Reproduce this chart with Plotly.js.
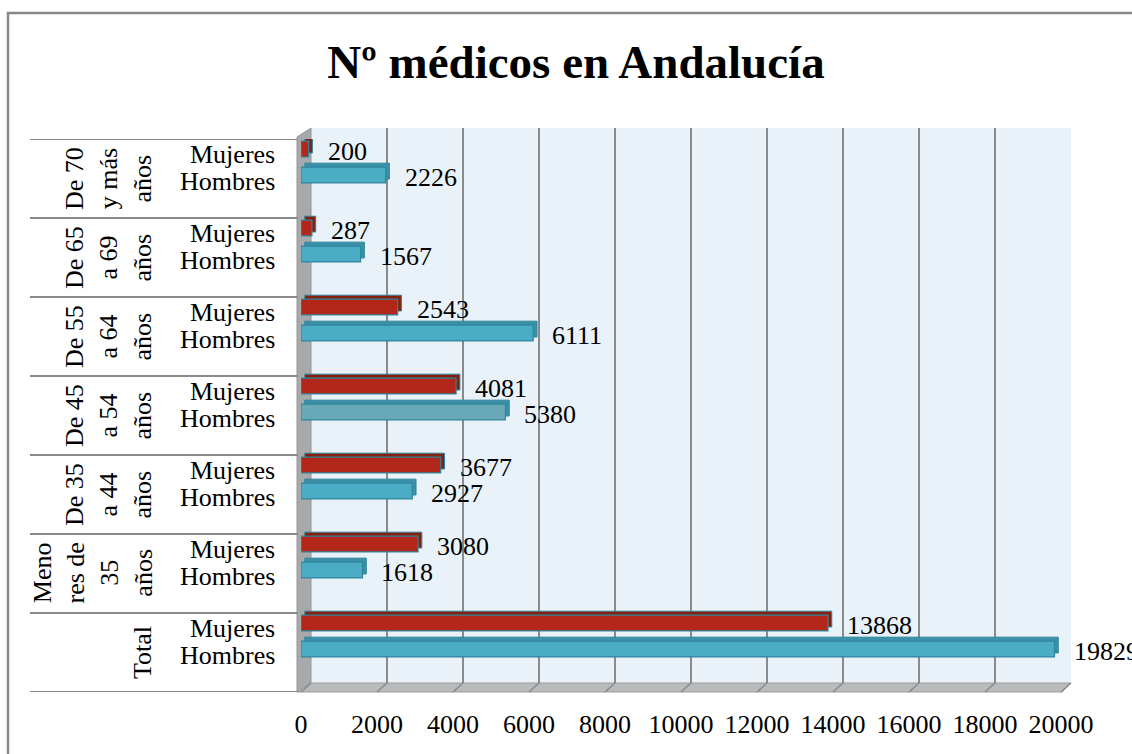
<!DOCTYPE html>
<html>
<head>
<meta charset="utf-8">
<script src="https://cdn.plot.ly/plotly-3.0.1.min.js"></script>
<style>
  html, body { margin: 0; padding: 0; background: #fff; }
  #chart { width: 1132px; height: 754px; }
</style>
</head>
<body>
<div id="chart"></div>
<script>
// Nº médicos en Andalucía — Excel-style 3D clustered horizontal bars

const groups = [
  "De 70<br>y más<br>años",
  "De 65<br>a 69<br>años",
  "De 55<br>a 64<br>años",
  "De 45<br>a 54<br>años",
  "De 35<br>a 44<br>años",
  "Meno<br>res de<br>35<br>años",
  "Total",
];
const mujeres = [200, 287, 2543, 4081, 3677, 3080, 13868];
const hombres = [2226, 1567, 6111, 5380, 2927, 1618, 19829];
const sexLabels = ["Mujeres", "Hombres"];
const xTicks = [0, 2000, 4000, 6000, 8000, 10000, 12000, 14000, 16000, 18000, 20000];

const W = 1132, H = 754;
const px = (x) => x / W;
const py = (y) => 1 - y / H;

const COLORS = {
  red:       "#b2271a",
  redTop:    "#85200f",
  blue:      "#4bacc6",
  blueTop:   "#3a90a8",
  blueSel:   "#68a8b7",
  edge:      "#31859c",
  wall:      "#eaf2f9",
  sideWall:  "#a7a9ab",
  floor:     "#b8bcbf",
  grid:      "#8a8a8a",
  text:      "#000000",
};
const FONT = "Liberation Serif, Times New Roman, serif";

// front plane (bars, tick labels) and back wall (grid) in pixels
const FRONT = { x0: 301, x1: 1061, y0: 692, y1: 139 };
const BACK  = { x0: 311, x1: 1071, y0: 683, y1: 128 };
const XMAX = 20000;

// positions inside each group (group height = 1 unit)
const OFF_M = 0.127, OFF_H = 0.456;      // bar centres
const BAR_W = 0.2;
const DEPTH_Y = 0.05, DEPTH_X = 100;     // fake 3D depth

const gIdx = groups.map((_, i) => i);
const yM = gIdx.map((i) => i + OFF_M);
const yH = gIdx.map((i) => i + OFF_H);
const hombresColors = hombres.map((_, i) => (i === 3 ? COLORS.blueSel : COLORS.blue));

const barBase = { type: "bar", orientation: "h", width: BAR_W, xaxis: "x2", yaxis: "y2",
                  hoverinfo: "skip", showlegend: false };

const traces = [
  // empty trace so the back-wall grid subplot exists (drawn first, below bars)
  { type: "scatter", x: [], y: [], xaxis: "x", yaxis: "y", showlegend: false, hoverinfo: "skip" },
  { ...barBase, x: mujeres, y: yM.map((v) => v - DEPTH_Y), base: mujeres.map(() => DEPTH_X),
    marker: { color: COLORS.redTop, line: { color: COLORS.edge, width: 1 } } },
  { ...barBase, x: hombres, y: yH.map((v) => v - DEPTH_Y), base: hombres.map(() => DEPTH_X),
    marker: { color: COLORS.blueTop, line: { color: COLORS.edge, width: 1 } } },
  { ...barBase, x: mujeres, y: yM,
    marker: { color: COLORS.red, line: { color: COLORS.edge, width: 1.2 } } },
  { ...barBase, x: hombres, y: yH,
    marker: { color: hombresColors, line: { color: COLORS.edge, width: 1.2 } } },
];

const shapes = [];
// outer chart border
shapes.push({ type: "rect", xref: "paper", yref: "paper", layer: "below",
  x0: px(8), y0: py(13), x1: 1.05, y1: -0.05, line: { color: "#878787", width: 2.5 } });
// back wall
shapes.push({ type: "rect", xref: "paper", yref: "paper", layer: "below",
  x0: px(BACK.x0), x1: px(BACK.x1), y0: py(BACK.y0), y1: py(BACK.y1),
  fillcolor: COLORS.wall, line: { width: 0 } });
// side wall
shapes.push({ type: "path", xref: "paper", yref: "paper", layer: "below",
  path: `M ${px(297)} ${py(137)} L ${px(BACK.x0)} ${py(BACK.y1)} L ${px(BACK.x0)} ${py(BACK.y0)} L ${px(297)} ${py(FRONT.y0)} Z`,
  fillcolor: COLORS.sideWall, line: { color: "#969696", width: 1 } });
// floor
shapes.push({ type: "path", xref: "paper", yref: "paper", layer: "below",
  path: `M ${px(297)} ${py(FRONT.y0)} L ${px(BACK.x0)} ${py(BACK.y0)} L ${px(BACK.x1)} ${py(BACK.y0)} L ${px(FRONT.x1 + 1)} ${py(FRONT.y0)} Z`,
  fillcolor: COLORS.floor, line: { color: "#9c9c9c", width: 1 } });
// floor diagonals under every grid line
xTicks.forEach((t) => {
  const fb = BACK.x0 + (t / XMAX) * (BACK.x1 - BACK.x0);
  const ff = FRONT.x0 + (t / XMAX) * (FRONT.x1 - FRONT.x0);
  shapes.push({ type: "line", xref: "paper", yref: "paper", layer: "below",
    x0: px(fb), y0: py(BACK.y0), x1: px(ff), y1: py(FRONT.y0),
    line: { color: COLORS.grid, width: 1.5 } });
});
// category dividers
for (let g = 0; g <= groups.length; g++) {
  shapes.push({ type: "line", xref: "paper", yref: "y2",
    x0: px(30), x1: px(298), y0: g, y1: g, line: { color: COLORS.grid, width: 2 } });
}

const annotations = [];
const txt = (size) => ({ family: FONT, size, color: COLORS.text });
groups.forEach((g, i) => {
  annotations.push({ text: g, textangle: -90, xref: "paper", yref: "y2",
    x: px(159), y: i + 0.5, xanchor: "right", yanchor: "middle", align: "center",
    showarrow: false, font: txt(26) });
  annotations.push({ text: sexLabels[0], xref: "paper", yref: "y2", x: px(277), y: i + 0.2,
    xanchor: "right", yanchor: "middle", showarrow: false, font: txt(26) });
  annotations.push({ text: sexLabels[1], xref: "paper", yref: "y2", x: px(277), y: i + 0.532,
    xanchor: "right", yanchor: "middle", showarrow: false, font: txt(26) });
  annotations.push({ text: String(mujeres[i]), xref: "x2", yref: "y2", x: mujeres[i], y: i + 0.152,
    xanchor: "left", yanchor: "middle", xshift: 17, showarrow: false, font: txt(26) });
  annotations.push({ text: String(hombres[i]), xref: "x2", yref: "y2", x: hombres[i], y: i + 0.487,
    xanchor: "left", yanchor: "middle", xshift: 17, showarrow: false, font: txt(26) });
});

const layout = {
  width: W, height: H,
  paper_bgcolor: "#ffffff", plot_bgcolor: "rgba(0,0,0,0)",
  margin: { l: 0, r: 0, t: 0, b: 0 },
  showlegend: false,
  barmode: "overlay",
  title: { text: "Nº médicos en Andalucía", x: px(576), xanchor: "center", xref: "paper",
           y: py(62), yanchor: "middle", yref: "paper",
           font: { family: FONT, size: 47, weight: 700, color: COLORS.text } },
  // back wall grid
  xaxis: { domain: [px(BACK.x0), px(BACK.x1)], range: [0, XMAX], anchor: "y",
           tickvals: xTicks, showgrid: true, gridcolor: COLORS.grid, gridwidth: 2,
           showticklabels: false, zeroline: false, showline: false, fixedrange: true },
  yaxis: { domain: [py(BACK.y0), py(BACK.y1)], range: [0, 1], anchor: "x",
           visible: false, fixedrange: true },
  // front plane: bars + tick labels
  xaxis2: { domain: [px(FRONT.x0), px(FRONT.x1)], range: [0, XMAX], anchor: "y2",
            tickvals: xTicks, tickformat: "d", ticks: "outside", ticklen: 9,
            tickcolor: "rgba(0,0,0,0)", showgrid: false, zeroline: false, showline: false,
            tickfont: txt(26), fixedrange: true },
  yaxis2: { domain: [py(FRONT.y0), py(FRONT.y1)], range: [groups.length, 0], anchor: "x2",
            visible: false, fixedrange: true },
  shapes, annotations,
};

Plotly.newPlot("chart", traces, layout, { displayModeBar: false, staticPlot: true });
</script>
</body>
</html>
